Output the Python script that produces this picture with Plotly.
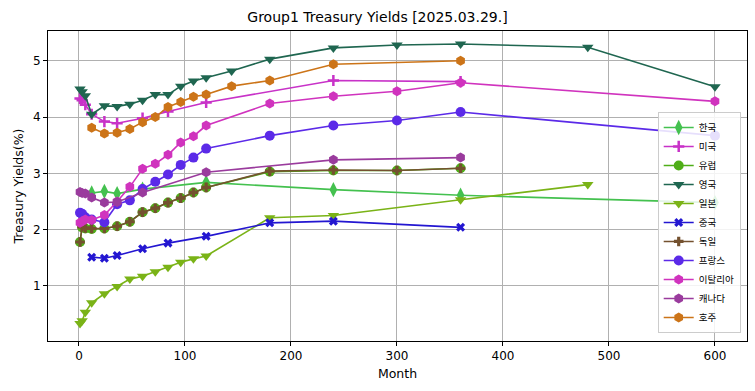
import plotly.graph_objects as go

# ---- data (months -> yield %) ----
kr_m = [12, 24, 36, 60, 120, 240, 360, 600]
kr_y = [2.65, 2.68, 2.64, 2.72, 2.84, 2.71, 2.61, 2.48]

us_m = [1, 3, 6, 12, 24, 36, 60, 84, 120, 240, 360]
us_y = [4.33, 4.30, 4.22, 4.05, 3.92, 3.89, 3.98, 4.10, 4.26, 4.65, 4.63]

eu_m = [1, 3, 6, 12, 24, 36, 48, 60, 72, 84, 96, 108, 120, 180, 240, 300, 360]
eu_y = [1.78, 2.04, 2.02, 2.01, 2.02, 2.06, 2.14, 2.31, 2.38, 2.48, 2.56, 2.66, 2.75, 3.03, 3.05, 3.05, 3.09]

uk_m = [1, 3, 6, 12, 24, 36, 48, 60, 72, 84, 96, 108, 120, 144, 180, 240, 300, 360, 480, 600]
uk_y = [4.50, 4.45, 4.38, 4.05, 4.20, 4.19, 4.23, 4.30, 4.40, 4.40, 4.55, 4.64, 4.70, 4.82,
        5.03, 5.23, 5.28, 5.30, 5.24, 4.54]

jp_m = [1, 3, 6, 12, 24, 36, 48, 60, 72, 84, 96, 108, 120, 180, 240, 360, 480]
jp_y = [0.33, 0.38, 0.53, 0.70, 0.86, 0.99, 1.12, 1.17, 1.25, 1.33, 1.42, 1.48, 1.53,
        2.21, 2.25, 2.53, 2.80]

cn_m = [12, 24, 36, 60, 84, 120, 180, 240, 360]
cn_y = [1.51, 1.49, 1.54, 1.66, 1.76, 1.88, 2.12, 2.15, 2.04]

de_m = [1, 3, 6, 12, 24, 36, 48, 60, 72, 84, 96, 108, 120, 180, 240, 300, 360]
de_y = [1.78, 2.05, 2.03, 2.02, 2.02, 2.06, 2.14, 2.31, 2.38, 2.48, 2.56, 2.66, 2.75, 3.04, 3.06, 3.05, 3.09]

fr_m = [1, 3, 6, 12, 24, 36, 48, 60, 72, 84, 96, 108, 120, 180, 240, 300, 360, 600]
fr_y = [2.30, 2.28, 2.22, 2.18, 2.13, 2.45, 2.52, 2.72, 2.85, 2.98, 3.15, 3.28, 3.44,
        3.67, 3.85, 3.94, 4.09, 3.67]

it_m = [1, 3, 6, 12, 24, 36, 48, 60, 72, 84, 96, 108, 120, 180, 240, 300, 360, 600]
it_y = [2.12, 2.15, 2.18, 2.17, 2.26, 2.50, 2.76, 3.08, 3.17, 3.33, 3.55, 3.66, 3.85,
        4.24, 4.37, 4.46, 4.61, 4.28]

ca_m = [1, 3, 6, 12, 24, 36, 60, 120, 240, 360]
ca_y = [2.67, 2.65, 2.64, 2.57, 2.48, 2.49, 2.66, 3.02, 3.24, 3.28]

au_m = [12, 24, 36, 48, 60, 72, 84, 96, 108, 120, 144, 180, 240, 360]
au_y = [3.81, 3.71, 3.72, 3.79, 3.91, 4.00, 4.18, 4.27, 4.36, 4.40, 4.55, 4.65, 4.94, 5.00]

series = [
    ("한국", kr_m, kr_y, "#44c14f", "diamond-tall", 11),
    ("미국", us_m, us_y, "#c832c8", "cross-thin", 8),
    ("유럽", eu_m, eu_y, "#4fae18", "circle", 10),
    ("영국", uk_m, uk_y, "#1f6650", "triangle-down", 10),
    ("일본", jp_m, jp_y, "#7ab317", "triangle-down", 10),
    ("중국", cn_m, cn_y, "#2316d1", "x", 8),
    ("독일", de_m, de_y, "#74512f", "cross", 8),
    ("프랑스", fr_m, fr_y, "#5b2ae8", "circle", 10),
    ("이탈리아", it_m, it_y, "#d033be", "hexagon", 10),
    ("캐나다", ca_m, ca_y, "#9a3b9d", "hexagon", 10),
    ("호주", au_m, au_y, "#cc7418", "hexagon", 10),
]

fig = go.Figure()
for name, m, y, c, sym, sz in series:
    mk = dict(color=c, symbol=sym, size=sz)
    if sym == "cross-thin":
        mk["line"] = dict(color=c, width=2.5)
    fig.add_trace(go.Scatter(x=m, y=y, name=name, mode="lines+markers",
                             line=dict(color=c, width=1.6), marker=mk))

axis_common = dict(showgrid=True, gridcolor="#b0b0b0", gridwidth=0.8,
                   showline=True, linecolor="black", linewidth=1, mirror=True,
                   ticks="outside", ticklen=4, tickcolor="black", automargin=False,
                   zeroline=False, tickfont=dict(size=12, color="black"))

fig.update_layout(
    width=755, height=391,
    margin=dict(l=48, r=8, t=31, b=50),
    paper_bgcolor="white", plot_bgcolor="white",
    font=dict(family="DejaVu Sans", color="black"),
    title=dict(text="Group1 Treasury Yields [2025.03.29.]", x=0.5, xanchor="center",
               y=0.955, yanchor="middle", font=dict(size=14)),
    xaxis=dict(range=[-29.2, 630.2], tickvals=[0, 100, 200, 300, 400, 500, 600],
               title=dict(text="Month", font=dict(size=12.5), standoff=6), **axis_common),
    yaxis=dict(range=[0.02, 5.53], tickvals=[1, 2, 3, 4, 5],
               title=dict(text="Treasury Yields(%)", font=dict(size=12.5), standoff=6), **axis_common),
    legend=dict(x=0.991, y=0.026, xanchor="right", yanchor="bottom",
                bgcolor="rgba(255,255,255,0.85)", bordercolor="#cccccc", borderwidth=1,
                font=dict(family="Noto Sans CJK KR", size=9.5), tracegroupgap=0,
                itemwidth=30),
    showlegend=True,
)

fig.write_html("out.html", config={"displayModeBar": False},
               post_script="document.body.style.margin='0';document.body.style.overflow='hidden';")
